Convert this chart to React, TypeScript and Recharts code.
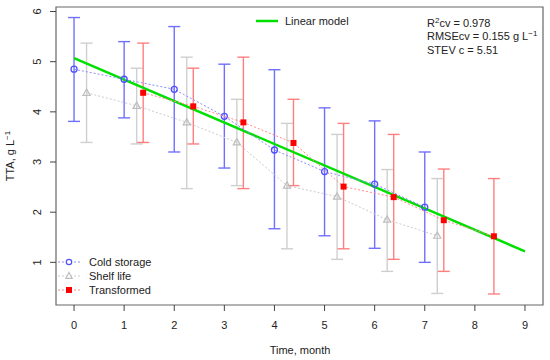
import React from 'react';
import { ComposedChart, Scatter, Line, XAxis, YAxis, ErrorBar, ReferenceArea } from 'recharts';

// Cold storage (blue circles)
const coldX = [0, 1, 2, 3, 4, 5, 6, 7];
const coldMean = [4.85, 4.65, 4.45, 3.91, 3.24, 2.81, 2.56, 2.1];
const coldLow = [3.81, 3.88, 3.2, 2.88, 1.67, 1.53, 1.28, 1.0];
const coldHigh = [5.88, 5.4, 5.7, 4.95, 4.84, 4.08, 3.82, 3.2];

// Shelf life (gray triangles)
const shelfX = [0.25, 1.25, 2.25, 3.25, 4.25, 5.25, 6.25, 7.25];
const shelfMean = [4.38, 4.12, 3.79, 3.39, 2.53, 2.31, 1.85, 1.53];
const shelfLow = [3.39, 3.36, 2.47, 2.53, 1.27, 1.06, 0.82, 0.38];
const shelfHigh = [5.37, 4.87, 5.09, 4.25, 3.77, 3.55, 2.85, 2.67];

// Transformed (red squares)
const transX = [1.38, 2.38, 3.38, 4.38, 5.38, 6.38, 7.38, 8.38];
const transMean = [4.38, 4.11, 3.79, 3.38, 2.51, 2.3, 1.84, 1.52];
const transLow = [3.39, 3.36, 2.47, 2.53, 1.27, 1.06, 0.82, 0.37];
const transHigh = [5.37, 4.87, 5.09, 4.25, 3.77, 3.55, 2.86, 2.67];

// Linear model end points
const modelX = [0, 9];
const modelY = [5.07, 1.22];

const xTicks = [0, 1, 2, 3, 4, 5, 6, 7, 8, 9];
const yTicks = [1, 2, 3, 4, 5, 6];

const X_DOMAIN: [number, number] = [-0.36, 9.36];
const Y_DOMAIN: [number, number] = [0.15, 6.09];

const FONT = '"Liberation Sans", Arial, sans-serif';

function build(xs: number[], mean: number[], low: number[], high: number[]) {
  return xs.map((x, i) => ({ x, y: mean[i], err: [mean[i] - low[i], high[i] - mean[i]] }));
}

const coldData = build(coldX, coldMean, coldLow, coldHigh);
const shelfData = build(shelfX, shelfMean, shelfLow, shelfHigh);
const transData = build(transX, transMean, transLow, transHigh);
const modelData = modelX.map((x, i) => ({ x, y: modelY[i] }));

const circle = (p: any) => <circle cx={p.cx} cy={p.cy} r={3} fill="none" stroke="#5050ff" strokeWidth={1.3} />;
const triangle = (p: any) => (
  <polygon
    points={`${p.cx},${p.cy - 3.8} ${p.cx - 3.6},${p.cy + 2.5} ${p.cx + 3.6},${p.cy + 2.5}`}
    fill="none"
    stroke="#bdbdbd"
    strokeWidth={1.2}
  />
);
const square = (p: any) => <rect x={p.cx - 3} y={p.cy - 3} width={6} height={6} fill="#ff0000" />;

const YTick = (props: any) => {
  const { x, y, payload } = props;
  return (
    <text x={x} y={y} transform={`rotate(-90 ${x} ${y})`} textAnchor="middle" fontSize={11} fill="#222" fontFamily={FONT}>
      {payload.value}
    </text>
  );
};

export default function App() {
  return (
    <div style={{ position: 'absolute', left: 0, top: 0, width: 550, height: 360, background: '#fff' }}>
      <ComposedChart width={550} height={360} margin={{ top: 7, right: 7, bottom: 0, left: 0 }}>
        <XAxis
          dataKey="x"
          type="number"
          domain={X_DOMAIN}
          ticks={xTicks}
          allowDataOverflow
          axisLine={false}
          tickSize={6}
          tickMargin={10}
          height={55}
          tickLine={{ stroke: '#444' }}
          tick={{ fontSize: 11, fill: '#222', fontFamily: FONT }}
        />
        <YAxis
          dataKey="y"
          type="number"
          domain={Y_DOMAIN}
          ticks={yTicks}
          allowDataOverflow
          axisLine={false}
          width={56}
          tickSize={6}
          tickMargin={9}
          tickLine={{ stroke: '#444' }}
          tick={<YTick />}
        />
        <ReferenceArea x1={X_DOMAIN[0]} x2={X_DOMAIN[1]} y1={Y_DOMAIN[0]} y2={Y_DOMAIN[1]} fill="none" stroke="#666" strokeWidth={1.2} />
        <Scatter
          data={shelfData}
          shape={triangle}
          line={{ stroke: '#cccccc', strokeWidth: 1, strokeDasharray: '2 2' }}
          isAnimationActive={false}
        >
          <ErrorBar dataKey="err" direction="y" width={6} stroke="#cfcfcf" strokeWidth={1.4} isAnimationActive={false} />
        </Scatter>
        <Scatter
          data={coldData}
          shape={circle}
          line={{ stroke: '#8c8cff', strokeWidth: 1, strokeDasharray: '2 2' }}
          isAnimationActive={false}
        >
          <ErrorBar dataKey="err" direction="y" width={6} stroke="#7070ff" strokeWidth={1.4} isAnimationActive={false} />
        </Scatter>
        <Scatter
          data={transData}
          shape={square}
          line={{ stroke: '#ff8c8c', strokeWidth: 1, strokeDasharray: '2 2' }}
          isAnimationActive={false}
        >
          <ErrorBar dataKey="err" direction="y" width={6} stroke="#ff7f7f" strokeWidth={1.4} isAnimationActive={false} />
        </Scatter>
        <Line data={modelData} dataKey="y" stroke="#00e000" strokeWidth={2.5} dot={false} isAnimationActive={false} />
      </ComposedChart>
      <svg width={550} height={360} style={{ position: 'absolute', left: 0, top: 0, pointerEvents: 'none' }} fontFamily={FONT} fontSize={11} fill="#222">
        {/* axis titles */}
        <text x={300} y={354} textAnchor="middle">Time, month</text>
        <text x={14} y={156} textAnchor="middle" transform="rotate(-90 14 156)">
          TTA, g L<tspan dy={-4} fontSize={8}>−1</tspan>
        </text>
        {/* linear model legend */}
        <line x1={256} y1={21} x2={278} y2={21} stroke="#00e000" strokeWidth={2.5} />
        <text x={285} y={25}>Linear model</text>
        {/* stats */}
        <text x={427} y={27}>R<tspan dy={-4} fontSize={8}>2</tspan><tspan dy={4}>cv = 0.978</tspan></text>
        <text x={427} y={40}>RMSEcv = 0.155 g L<tspan dy={-4} fontSize={8}>−1</tspan></text>
        <text x={427} y={54}>STEV c = 5.51</text>
        {/* series legend */}
        <line x1={58} y1={262} x2={80} y2={262} stroke="#8c8cff" strokeDasharray="2 2" />
        <circle cx={69} cy={262} r={2.7} fill="#fff" stroke="#5050ff" strokeWidth={1.2} />
        <text x={89} y={266}>Cold storage</text>
        <line x1={58} y1={276} x2={80} y2={276} stroke="#cccccc" strokeDasharray="2 2" />
        <polygon points="69,272.5 65.8,278.3 72.2,278.3" fill="#fff" stroke="#bdbdbd" strokeWidth={1.2} />
        <text x={89} y={280}>Shelf life</text>
        <line x1={58} y1={290} x2={80} y2={290} stroke="#ff8c8c" strokeDasharray="2 2" />
        <rect x={66} y={287} width={6} height={6} fill="#ff0000" />
        <text x={89} y={294}>Transformed</text>
      </svg>
    </div>
  );
}
